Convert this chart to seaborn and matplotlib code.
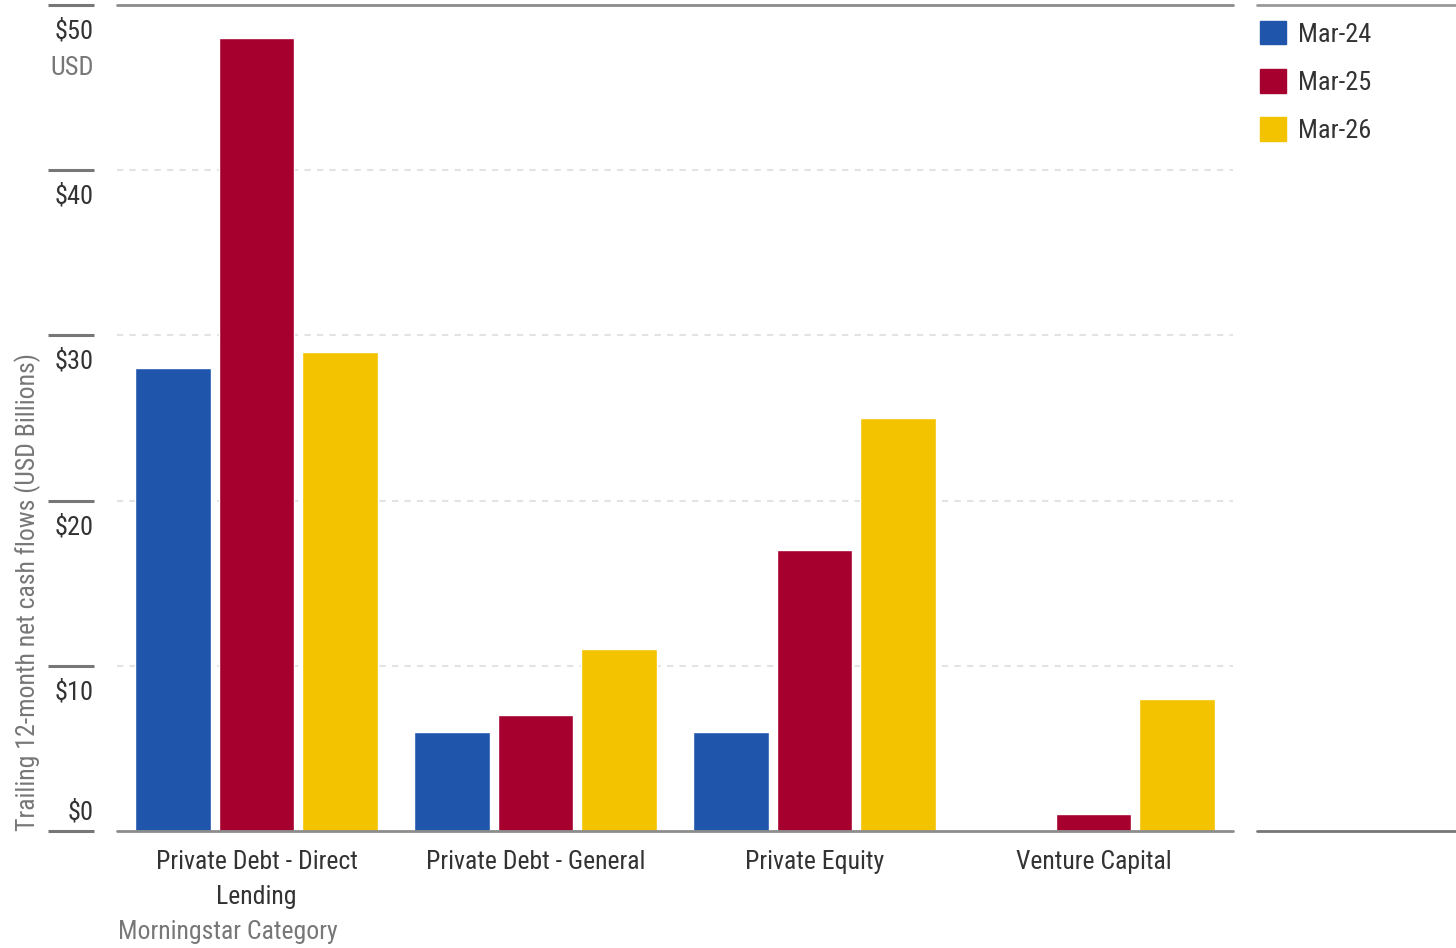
import matplotlib
matplotlib.use("Agg")
import matplotlib.pyplot as plt
import matplotlib.transforms as mtransforms
import matplotlib.font_manager as fm
from matplotlib.lines import Line2D
import pandas as pd
import seaborn as sns

categories = ["Private Debt - Direct\nLending", "Private Debt - General",
              "Private Equity", "Venture Capital"]
periods = ["Mar-24", "Mar-25", "Mar-26"]
mar24 = [28.0, 6.0, 6.0, 0.0]
mar25 = [48.0, 7.0, 17.0, 1.0]
mar26 = [29.0, 11.0, 25.0, 8.0]
yticks = [0, 10, 20, 30, 40, 50]
ytick_labels = ["$0", "$10", "$20", "$30", "$40", "$50"]
colors = ["#2055AC", "#A6002F", "#F4C300"]

df = pd.DataFrame({
    "category": categories * 3,
    "period": [p for p in periods for _ in categories],
    "value": mar24 + mar25 + mar26,
})

sns.set_theme(style="white")

# pick a narrow sans face if one is available
fonts = fm.fontManager.ttflist
names = {f.name for f in fonts}
family, stretch = "DejaVu Sans", "normal"
for cand in ["Liberation Sans Narrow", "Roboto Condensed", "Open Sans Condensed",
             "Noto Sans Condensed", "DejaVu Sans Condensed", "Arial Narrow"]:
    if cand in names:
        family = cand
        break
else:
    narrow = [f for f in fonts if f.stretch in ("condensed", "semi-condensed",
                                                "extra-condensed")]
    if narrow:
        family, stretch = narrow[0].name, narrow[0].stretch
    elif "Roboto" in names:
        family = "Roboto"
plt.rcParams["font.family"] = [family, "DejaVu Sans"]
plt.rcParams["font.stretch"] = stretch

W, H = 1456, 948
fig = plt.figure(figsize=(W / 100, H / 100), dpi=100)
ax = fig.add_axes([117 / W, 1 - 831 / H, (1233 - 117) / W, (831 - 5) / H])

sns.barplot(data=df, x="category", y="value", hue="period", order=categories,
            hue_order=periods, palette=colors, width=0.9, gap=0.095,
            saturation=1, ax=ax, legend=False)

ax.set_xlim(-0.5, 3.5)
ax.set_ylim(0, 50)
for s in ax.spines.values():
    s.set_visible(False)
ax.set_yticks([])
ax.set_xlabel("")
ax.set_ylabel("")
ax.tick_params(axis="x", length=0, pad=14, labelsize=18.5, labelcolor="#333333")
for t in ax.get_xticklabels():
    t.set_linespacing(1.55)

# gridlines: solid top/bottom, dotted in between
for v in yticks:
    if v in (0, 50):
        ax.axhline(v, color="#8c8c8c", lw=2, zorder=3, clip_on=False)
    else:
        ax.axhline(v, color="#e3e3e3", lw=1.5, ls=(0, (3, 3)), zorder=0)

# left tick marks with labels sitting below them ($0 sits above)
blend = mtransforms.blended_transform_factory(ax.transAxes, ax.transData)
x0, x1 = (48 - 117) / (1233 - 117), (94 - 117) / (1233 - 117)
for v, lab in zip(yticks, ytick_labels):
    ax.plot([x0, x1], [v, v], transform=blend, color="#777777", lw=2.2,
            clip_on=False, solid_capstyle="butt")
    if v == 0:
        off = mtransforms.offset_copy(blend, fig=fig, x=0, y=6, units="dots")
        va = "bottom"
    else:
        off = mtransforms.offset_copy(blend, fig=fig, x=0, y=-14, units="dots")
        va = "top"
    ax.text(x1, v, lab, transform=off, ha="right", va=va, fontsize=19,
            color="#333333")

offu = mtransforms.offset_copy(blend, fig=fig, x=0, y=-51, units="dots")
ax.text(x1, 50, "USD", transform=offu, ha="right", va="top", fontsize=19,
        color="#777777")

fig.text(28 / W, 1 - 831 / H, "Trailing 12-month net cash flows (USD Billions)",
         rotation=90, ha="center", va="bottom", fontsize=18.5, color="#777777")
fig.text(118 / W, 1 - 932 / H, "Morningstar Category", ha="left", va="center",
         fontsize=18.5, color="#777777")

# legend panel
handles = [plt.Rectangle((0, 0), 1, 1, color=c) for c in colors]
fig.legend(handles, periods, loc="upper left", bbox_to_anchor=(1236 / W, 1 + 3 / H),
           frameon=False, fontsize=19, handlelength=1.0, handleheight=1.0,
           handletextpad=0.45, labelspacing=0.85, labelcolor="#333333")
fig.add_artist(Line2D([1257 / W, 1], [1 - 5 / H, 1 - 5 / H], transform=fig.transFigure,
                      color="#999999", lw=2))
fig.add_artist(Line2D([1257 / W, 1], [1 - 831 / H, 1 - 831 / H], transform=fig.transFigure,
                      color="#777777", lw=2))

fig.savefig("out.png", dpi=100, facecolor="white")
